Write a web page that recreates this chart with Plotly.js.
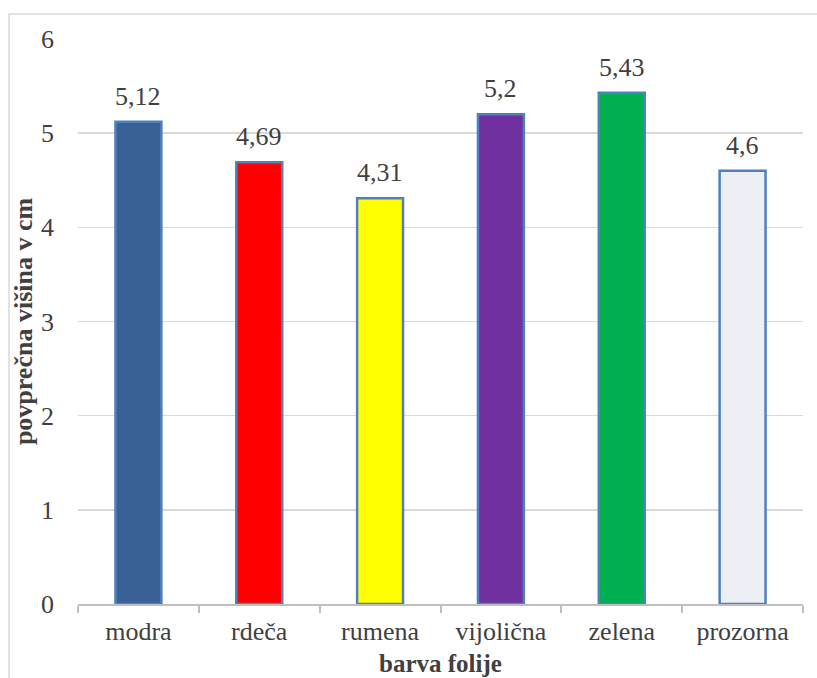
<!DOCTYPE html>
<html>
<head>
<meta charset="utf-8">
<script src="https://cdn.plot.ly/plotly-3.0.1.min.js"></script>
<style>html,body{margin:0;padding:0;background:#fff;}#chart{width:817px;height:678px;}</style>
</head>
<body>
<div id="chart"></div>
<script>
const categories = ["modra", "rdeča", "rumena", "vijolična", "zelena", "prozorna"];
const values = [5.12, 4.69, 4.31, 5.2, 5.43, 4.6];
const barColors = ["#3a6195", "#ff0000", "#ffff00", "#7030a0", "#00b050", "#eceff3"];
const yTitle = "povprečna višina v cm";
const xTitle = "barva folije";

const labels = values.map(v => String(v).replace('.', ','));
const FONT = "Liberation Serif, DejaVu Serif, serif";
const TXT = '#404040';

const trace = {
  type: 'bar',
  x: categories,
  y: values,
  width: 0.38,
  marker: {color: barColors, line: {color: '#4f81bd', width: 2.5}},
  hoverinfo: 'x+y'
};

const annotations = categories.map((c, i) => ({
  x: c, y: values[i], xref: 'x', yref: 'y',
  text: labels[i], showarrow: false,
  yanchor: 'bottom', yshift: 9,
  font: {family: FONT, size: 26, color: TXT}
}));

const layout = {
  width: 817, height: 678,
  margin: {l: 78, r: 14, t: 39, b: 74},
  paper_bgcolor: '#fff', plot_bgcolor: '#fff',
  showlegend: false,
  font: {family: FONT, color: TXT},
  xaxis: {
    type: 'category',
    tickson: 'boundaries',
    ticks: 'outside', ticklen: 7, tickwidth: 2, tickcolor: '#bfbfbf',
    showline: true, linecolor: '#bfbfbf', linewidth: 2,
    showgrid: false,
    tickfont: {family: FONT, size: 26, color: TXT},
    ticklabelstandoff: 3,
    title: {text: xTitle, font: {family: FONT, size: 25, color: TXT, weight: 'bold'}, standoff: 9},
    automargin: false
  },
  yaxis: {
    range: [0, 6], dtick: 1,
    showgrid: true, gridcolor: '#d9d9d9', gridwidth: 1.5,
    zeroline: false, showline: false, ticks: '',
    tickfont: {family: FONT, size: 26, color: TXT},
    ticklabelstandoff: 23,
    title: {text: yTitle, font: {family: FONT, size: 26, color: TXT, weight: 'bold'}, standoff: 0},
    automargin: false
  },
  annotations: annotations,
  shapes: [{
    type: 'rect', xref: 'paper', yref: 'paper',
    x0: (9 - 78) / 725, x1: (830 - 78) / 725,
    y0: (604 - 700) / 565, y1: (604 - 14) / 565,
    line: {color: '#d9d9d9', width: 1.5}, fillcolor: 'rgba(0,0,0,0)', layer: 'below'
  }]
};

Plotly.newPlot('chart', [trace], layout, {displayModeBar: false, staticPlot: true});
</script>
</body>
</html>
